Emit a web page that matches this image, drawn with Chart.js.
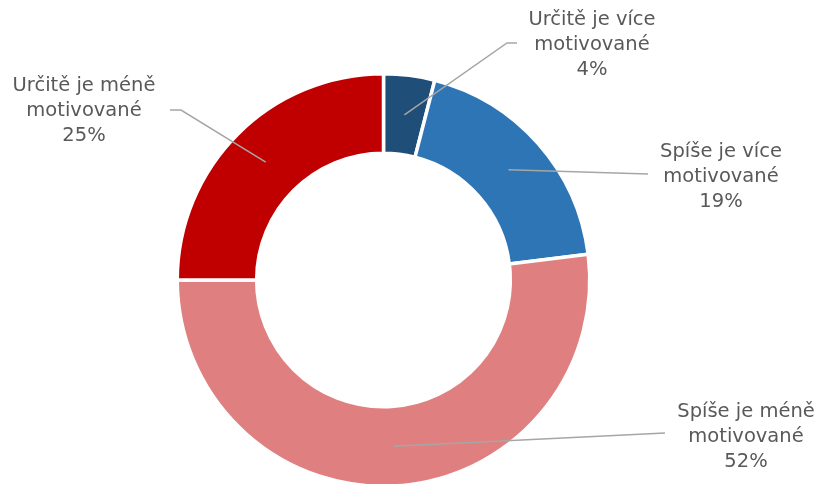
<!DOCTYPE html>
<html lang="cs">
<head>
  <meta charset="UTF-8" />
  <title>Motivace</title>
  <script src="https://cdn.jsdelivr.net/npm/chart.js"></script>
  <style>
    html, body { margin: 0; padding: 0; background: #ffffff; overflow: hidden; }
    .chart-box { position: relative; width: 821px; height: 496px; }
  </style>
</head>
<body>
<div class="chart-box"><canvas id="pie"></canvas></div>

<script>
  // data
  const categories = [
    ['Určitě je více', 'motivované'],
    ['Spíše je více', 'motivované'],
    ['Spíše je méně', 'motivované'],
    ['Určitě je méně', 'motivované']
  ];
  const values = [4, 19, 52, 25];
  const colors = ['#1F4E79', '#2E75B6', '#E07F80', '#C00000'];

  // where each label sits + leader line end (elbow optional)
  const labelLayout = [
    { x: 592, y: 20, lineEnd: [517, 43], elbow: [507, 43] },
    { x: 721, y: 152, lineEnd: [648, 174] },
    { x: 746, y: 412, lineEnd: [665, 433] },
    { x: 84, y: 86, lineEnd: [170, 110], elbow: [181, 110] }
  ];

  const calloutPlugin = {
    id: 'callouts',
    afterDatasetsDraw(chart) {
      const ctx = chart.ctx;
      const meta = chart.getDatasetMeta(0);
      const total = values.reduce((a, b) => a + b, 0);
      ctx.save();
      meta.data.forEach((arc, i) => {
        const start = arc.tooltipPosition();
        const lay = labelLayout[i];
        ctx.strokeStyle = '#A6A6A6';
        ctx.lineWidth = 1.5;
        ctx.beginPath();
        ctx.moveTo(start.x, start.y);
        if (lay.elbow) ctx.lineTo(lay.elbow[0], lay.elbow[1]);
        ctx.lineTo(lay.lineEnd[0], lay.lineEnd[1]);
        ctx.stroke();

        ctx.fillStyle = '#595959';
        ctx.font = '19.5px "DejaVu Sans"';
        ctx.textAlign = 'center';
        ctx.textBaseline = 'middle';
        const lines = categories[i].concat([Math.round(values[i] / total * 100) + '%']);
        lines.forEach((t, k) => ctx.fillText(t, lay.x, lay.y + k * 25));
      });
      ctx.restore();
    }
  };

  new Chart(document.getElementById('pie'), {
    type: 'doughnut',
    data: {
      labels: categories.map(c => c.join(' ')),
      datasets: [{
        data: values,
        backgroundColor: colors,
        borderColor: '#ffffff',
        borderWidth: 3.5,
        hoverOffset: 0
      }]
    },
    options: {
      responsive: true,
      maintainAspectRatio: false,
      animation: false,
      cutout: '61.5%',
      layout: { padding: { left: 175.5, right: 229.5, top: 72, bottom: 8 } },
      plugins: { legend: { display: false }, tooltip: { enabled: false } }
    },
    plugins: [calloutPlugin]
  });
</script>
</body>
</html>
